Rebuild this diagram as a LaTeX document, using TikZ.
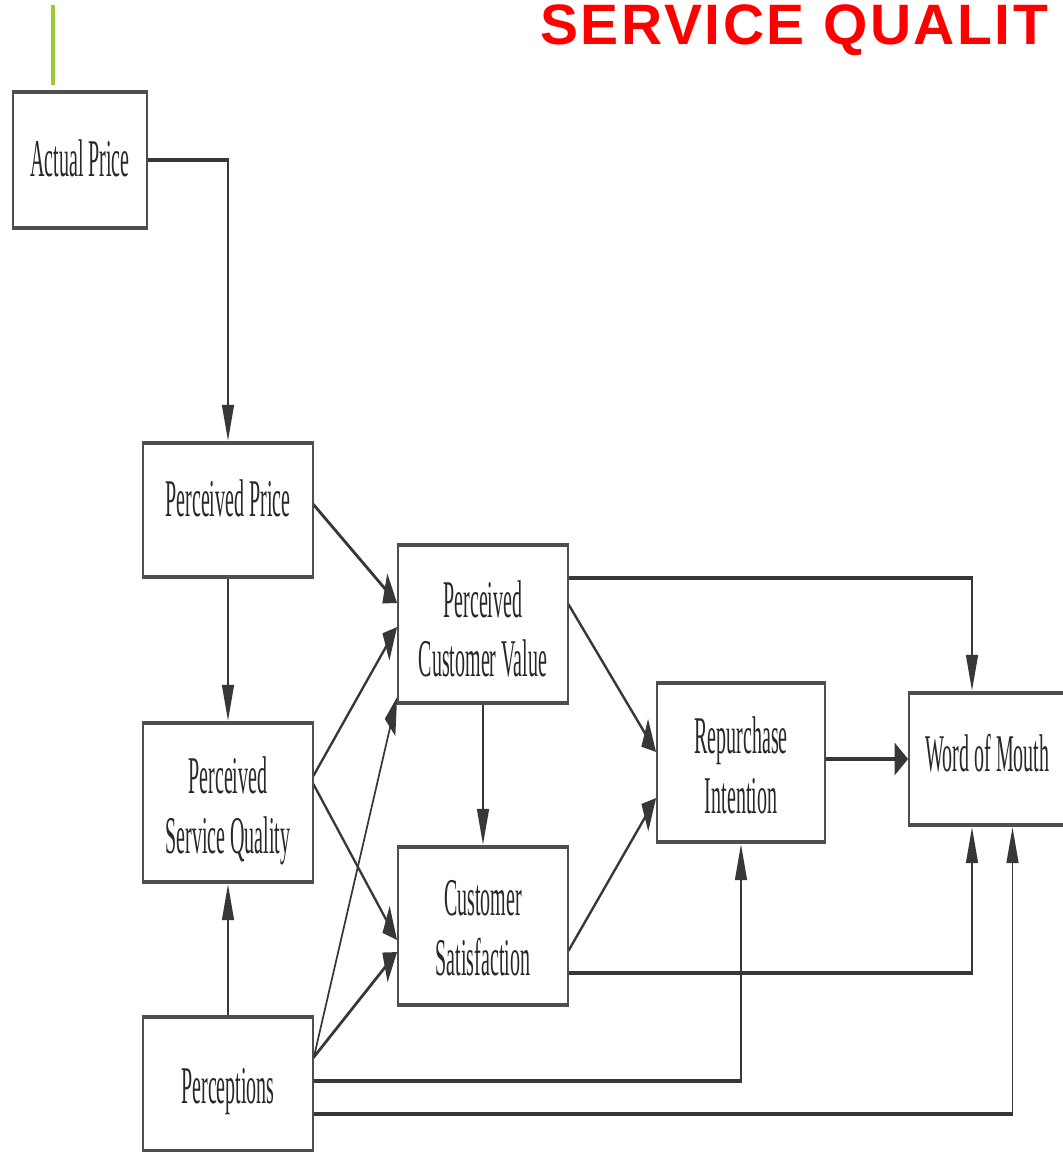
\documentclass[tikz,border=0pt]{standalone}
\usepackage{fontspec}
\setmainfont{Liberation Serif}
\newfontfamily\titlefont{Liberation Sans}[LetterSpace=4.5]
\usetikzlibrary{arrows.meta,calc}
\definecolor{titlered}{RGB}{255,0,0}
\definecolor{leafgreen}{RGB}{154,202,50}
\definecolor{edgegray}{RGB}{78,78,78}
\definecolor{inkgray}{RGB}{55,55,55}
\definecolor{textgray}{RGB}{40,40,40}
\begin{document}
\begin{tikzpicture}[x=1pt,y=-1pt]
% page frame
\useasboundingbox (0,0) rectangle (1063,1152);
\fill[white] (0,0) rectangle (1063,1152);
\clip (0,0) rectangle (1063,1152);

% heading and accent stroke
\draw[leafgreen, line width=4pt] (53,5) coordinate (stemtop) -- (53,85) coordinate (stemfoot);
\node[anchor=base west, text=titlered, inner sep=0pt,
      font=\titlefont\bfseries\fontsize{57}{60}\selectfont] (title) at (540,44) {SERVICE QUALIT};

% the model, drawn flat and stretched vertically
\begin{scope}[y=-0.37736pt, transform canvas={yscale=2.65},
  box/.style={draw=edgegray, line width=1.8pt, fill=white, inner sep=0pt},
  tag/.style={inner sep=0pt, align=center, text=textgray,
              font=\fontsize{20}{22.6}\selectfont},
  conn/.style={draw=inkgray, line width=1.5pt,
               -{Triangle[length=13.5pt,width=12pt]}}]

  % boxes
  \node[box, minimum width=134pt, minimum height=51.32pt] (ap)  at (80,160)    {};
  \node[box, minimum width=170pt, minimum height=50.57pt] (pp)  at (228,510)   {};
  \node[box, minimum width=170pt, minimum height=60.00pt] (psq) at (228,802.5) {};
  \node[box, minimum width=170pt, minimum height=50.57pt] (per) at (228,1084)  {};
  \node[box, minimum width=170pt, minimum height=59.62pt] (pcv) at (483,624)   {};
  \node[box, minimum width=170pt, minimum height=59.62pt] (cs)  at (483,926)   {};
  \node[box, minimum width=168pt, minimum height=60.00pt] (ri)  at (741,762.5) {};
  \node[box, minimum width=157pt, minimum height=49.81pt] (wom) at (987.5,759) {};

  % box texts
  \node[tag] (apt)  at ($(ap)+(0,-2)$)  {Actual Price};
  \node[tag] (ppt)  at ($(pp)+(0,-12)$) {Perceived Price};
  \node[tag] (psqt) at ($(psq)+(0,8)$)  {Perceived\\Service Quality};
  \node[tag] (pert) at ($(per)+(0,8)$)  {Perceptions};
  \node[tag] (pcvt) at ($(pcv)+(0,5)$)  {Perceived\\Customer Value};
  \node[tag] (cst)  at ($(cs)+(0,2)$)   {Customer\\Satisfaction};
  \node[tag] (rit)  at ($(ri)+(0,3)$)   {Repurchase\\Intention};
  \node[tag] (womt) at ($(wom)+(0,-6)$) {Word of Mouth};

  % price chain
  \draw[conn] (ap.east) -| (pp.north);
  \draw[conn] (pp.south) -- (psq.north);
  \draw[conn] (per.north) -- (psq.south);

  % into perceived customer value
  \draw[conn] ($(pp.east)+(0,-5)$)    -- ($(pcv.west)+(0,-21)$);
  \draw[conn] ($(psq.east)+(0,-27.5)$) -- ($(pcv.west)+(0,3)$);
  \draw[conn] ($(per.east)+(0,-27)$)  -- ($(pcv.west)+(0,73)$);

  % into customer satisfaction
  \draw[conn] ($(psq.east)+(0,-17.5)$) -- ($(cs.west)+(0,14)$);
  \draw[conn] ($(per.east)+(0,-27)$)  -- ($(cs.west)+(0,26)$);
  \draw[conn] (pcv.south) -- (cs.north);

  % into repurchase intention
  \draw[conn] ($(pcv.east)+(0,-19)$) -- ($(ri.west)+(0,-10.5)$);
  \draw[conn] ($(cs.east)+(0,24)$)   -- ($(ri.west)+(0,35.5)$);
  \draw[conn] ($(per.east)+(0,-3)$)  -| (ri.south);

  % into word of mouth
  \draw[conn] ($(pcv.east)+(0,-46)$) -| ($(wom.north)+(-15.5,0)$);
  \draw[conn] ($(ri.east)+(0,-3.5)$) -- (wom.west);
  \draw[conn] ($(cs.east)+(0,47)$)   -| ($(wom.south)+(-15.5,0)$);
  \draw[conn] ($(per.east)+(0,30)$)  -| ($(wom.south)+(25,0)$);
\end{scope}
\end{tikzpicture}
\end{document}
